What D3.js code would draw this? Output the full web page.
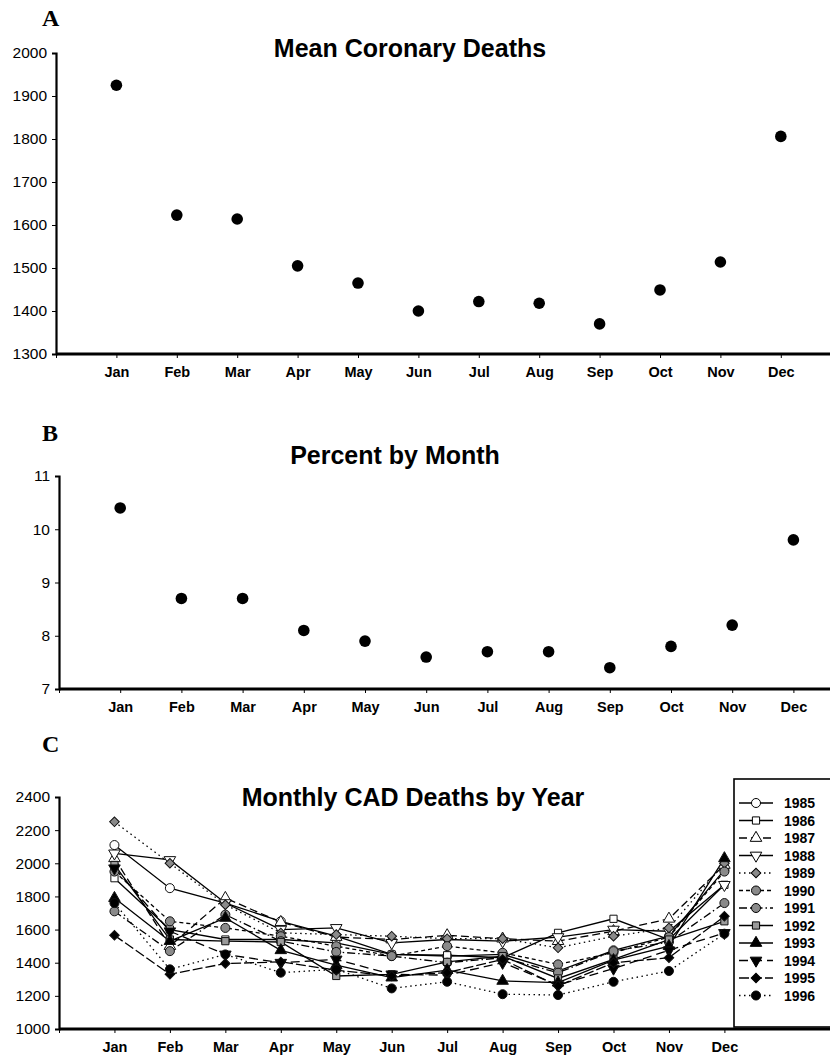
<!DOCTYPE html>
<html><head><meta charset="utf-8">
<script src="https://cdn.jsdelivr.net/npm/d3@7"></script>
<style>
body{margin:0;background:#fff;}
svg{display:block;}
</style></head>
<body><svg id="c" width="830" height="1058" font-family="Liberation Sans, Arial, sans-serif"></svg>
<script>
const months = ["Jan","Feb","Mar","Apr","May","Jun","Jul","Aug","Sep","Oct","Nov","Dec"];
const meanDeaths = [1925,1623,1614,1505,1465,1400,1422,1418,1370,1449,1514,1806];
const percentByMonth = [10.4,8.7,8.7,8.1,7.9,7.6,7.7,7.7,7.4,7.8,8.2,9.8];
const ticksA = [1300,1400,1500,1600,1700,1800,1900,2000];
const ticksB = [7,8,9,10,11];
const ticksC = [1000,1200,1400,1600,1800,2000,2200,2400];
const years = ["1985","1986","1987","1988","1989","1990","1991","1992","1993","1994","1995","1996"];
const d1985 = [2110,1850,1760,1650,1560,1450,1440,1450,1350,1475,1560,1960];
const d1986 = [1910,1600,1540,1540,1520,1450,1445,1430,1580,1665,1540,1870];
const d1987 = [2030,1500,1790,1645,1555,1540,1565,1545,1530,1590,1665,1990];
const d1988 = [2060,2020,1760,1600,1610,1520,1540,1530,1555,1600,1590,1870];
const d1989 = [2250,2000,1750,1580,1570,1560,1545,1545,1490,1560,1610,2000];
const d1990 = [1950,1650,1610,1560,1500,1440,1500,1460,1390,1460,1555,1950];
const d1991 = [1710,1470,1690,1530,1465,1440,1400,1430,1340,1470,1525,1760];
const d1992 = [1990,1540,1530,1525,1320,1330,1405,1440,1305,1420,1540,1650];
const d1993 = [1790,1530,1670,1475,1385,1310,1355,1290,1280,1415,1500,2030];
const d1994 = [1970,1590,1450,1400,1420,1330,1325,1400,1265,1365,1475,1580];
const d1995 = [1565,1330,1395,1405,1355,1320,1340,1420,1260,1400,1430,1680];
const d1996 = [1760,1360,1450,1340,1360,1245,1285,1210,1205,1285,1350,1575];
const cadSeries = [d1985,d1986,d1987,d1988,d1989,d1990,d1991,d1992,d1993,d1994,d1995,d1996];

const styleSym = ["circle","square","tup","tdown","diamond","circle","circle","square","tup","tdown","diamond","circle"];
const styleFill = ["#fff","#fff","#fff","#fff","#8a8a8a","#8a8a8a","#8a8a8a","#9a9a9a","#000","#000","#000","#000"];
const styleDash = [null,null,"8,4",null,"1.5,3.5","4,3","8,3,1.5,3",null,null,"9,5","10,3","1.5,3.5"];

const svg = d3.select("#c");

function panel(cfg){
  const g = svg.append("g");
  const x = d3.scaleLinear().domain([0,13]).range([cfg.x0, cfg.x0 + 13*cfg.step]);
  const y = d3.scaleLinear().domain(cfg.yDomain).range([cfg.yBot, cfg.yTop]);
  const ya = g.append("g").attr("transform",`translate(${cfg.x0},0)`)
    .call(d3.axisLeft(y).tickValues(cfg.ticks).tickSize(4).tickPadding(5).tickFormat(d3.format("d")));
  ya.attr("font-family",null);
  ya.select(".domain").attr("stroke-width",2.2);
  ya.selectAll("text").attr("font-size",cfg.yFont).attr("fill","#000");
  const xa = g.append("g").attr("transform",`translate(0,${cfg.yBot})`)
    .call(d3.axisBottom(x).tickValues(d3.range(0,13)).tickSize(4).tickPadding(9)
      .tickFormat(i => i>=1 && i<=12 ? months[i-1] : ""));
  xa.attr("font-family",null);
  xa.select(".domain").attr("d",`M${cfg.x0},0H${cfg.xEnd}`).attr("stroke-width",3);
  xa.selectAll("text").attr("font-size",14.5).attr("font-weight","bold").attr("fill","#000");
  g.append("text").attr("x",cfg.titleX).attr("y",cfg.titleY).attr("text-anchor","middle")
    .attr("font-size",25).attr("font-weight","bold").text(cfg.title);
  g.append("text").attr("x",cfg.letterX).attr("y",cfg.letterY)
    .style("font-family","'Liberation Serif','DejaVu Serif',serif").attr("font-weight","bold")
    .attr("font-size",24).text(cfg.letter);
  return {g,x,y};
}

const A = panel({x0:56, step:60.4, xEnd:830, yTop:53, yBot:354, yDomain:[1300,2000], ticks:ticksA, yFont:15.5,
  title:"Mean Coronary Deaths", titleX:410, titleY:57, letter:"A", letterX:42, letterY:26});
A.g.selectAll("circle.pt").data(meanDeaths).join("circle").attr("class","pt")
  .attr("cx",(d,i)=>A.x(i+1)).attr("cy",d=>A.y(d)).attr("r",5.8).attr("fill","#000");

const B = panel({x0:59, step:61.2, xEnd:830, yTop:476, yBot:689, yDomain:[7,11], ticks:ticksB, yFont:15.5,
  title:"Percent by Month", titleX:395, titleY:464, letter:"B", letterX:42, letterY:441});
B.g.selectAll("circle.pt").data(percentByMonth).join("circle").attr("class","pt")
  .attr("cx",(d,i)=>B.x(i+1)).attr("cy",d=>B.y(d)).attr("r",5.8).attr("fill","#000");

const C = panel({x0:59, step:55.45, xEnd:830, yTop:797, yBot:1029, yDomain:[1000,2400], ticks:ticksC, yFont:15.5,
  title:"Monthly CAD Deaths by Year", titleX:413, titleY:806, letter:"C", letterX:42, letterY:752});

function symPath(s){
  if(s==="circle") return d3.symbol(d3.symbolCircle,64)();
  if(s==="square") return d3.symbol(d3.symbolSquare,52)();
  if(s==="diamond") return d3.symbol(d3.symbolSquare,46)();
  return d3.symbol(d3.symbolTriangle,58)();
}
function symRot(s){
  if(s==="tdown") return " rotate(180)";
  if(s==="diamond") return " rotate(45)";
  return "";
}
const line = d3.line().x((d,i)=>C.x(i+1)).y(d=>C.y(d));
const lg = C.g.append("g");
cadSeries.forEach((s,k)=>{
  lg.append("path").attr("d",line(s)).attr("fill","none").attr("stroke","#000")
    .attr("stroke-width",1.3).attr("stroke-dasharray",styleDash[k]);
});
cadSeries.forEach((s,k)=>{
  lg.selectAll(null).data(s).join("path")
    .attr("d",symPath(styleSym[k]))
    .attr("transform",(d,i)=>`translate(${C.x(i+1)},${C.y(d)})${symRot(styleSym[k])}`)
    .attr("fill",styleFill[k]).attr("stroke","#111").attr("stroke-width",1);
});

const leg = svg.append("g");
leg.append("rect").attr("x",734).attr("y",779).attr("width",110).attr("height",248)
  .attr("fill","#fff").attr("stroke","#000").attr("stroke-width",1.6);
years.forEach((yr,k)=>{
  const ly = 803 + k*17.5;
  leg.append("line").attr("x1",739).attr("x2",773).attr("y1",ly).attr("y2",ly)
    .attr("stroke","#000").attr("stroke-width",1.3).attr("stroke-dasharray",styleDash[k]);
  leg.append("path").attr("d",symPath(styleSym[k]))
    .attr("transform",`translate(756,${ly})${symRot(styleSym[k])}`)
    .attr("fill",styleFill[k]).attr("stroke","#000").attr("stroke-width",1);
  leg.append("text").attr("x",784).attr("y",ly+5).attr("font-size",14).attr("font-weight","bold").text(yr);
});
</script></body></html>
